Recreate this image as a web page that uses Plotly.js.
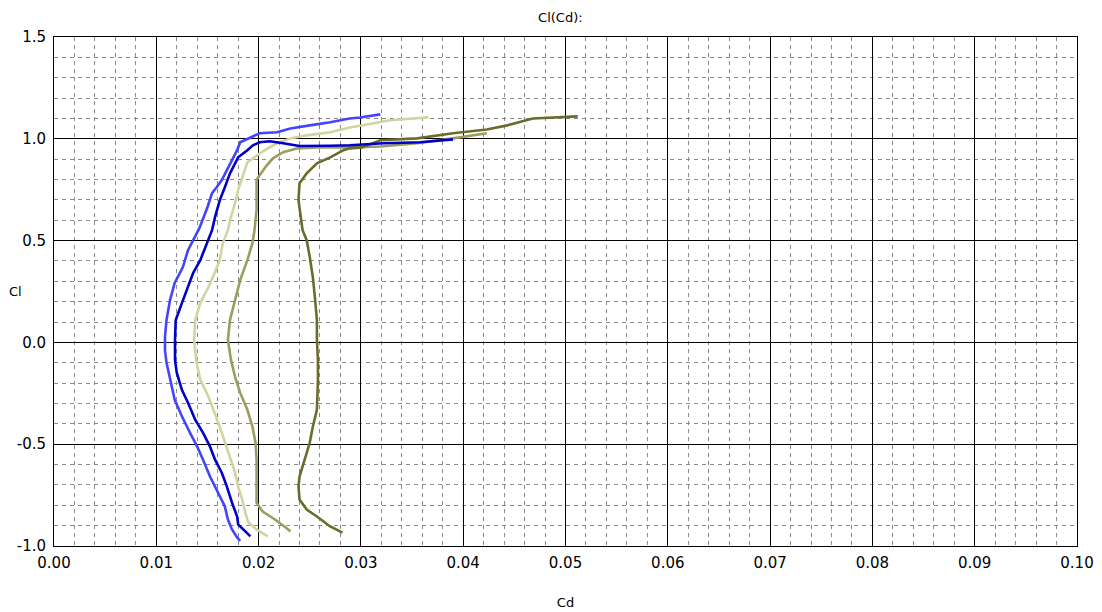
<!DOCTYPE html>
<html>
<head>
<meta charset="utf-8">
<script src="https://cdn.plot.ly/plotly-3.0.1.min.js"></script>
<style>html,body{margin:0;padding:0;background:#fff;}#chart{width:1102px;height:612px;}</style>
</head>
<body>
<div id="chart"></div>
<script>
// Series 1 (light blue), listed from the bottom of the curve to its top end
const cd1 = [0.0182,0.0179,0.0174,0.0170,0.0167,0.0160,0.01525,0.01457,0.0140,0.0133,0.0125,0.0118,0.01134,0.0110,0.01085,0.01085,0.0110,0.01134,0.0118,0.0126,0.0131,0.01359,0.0142,0.0150,0.01545,0.0159,0.0164,0.0169,0.0174,0.0179,0.0182,0.0192,0.0201,0.0218,0.0231,0.0250,0.0270,0.0289,0.0299,0.0319];
const cl1 = [-0.975,-0.958,-0.919,-0.870,-0.806,-0.738,-0.659,-0.576,-0.512,-0.444,-0.363,-0.282,-0.184,-0.100,-0.040,0.030,0.110,0.208,0.292,0.370,0.453,0.502,0.560,0.664,0.733,0.762,0.797,0.846,0.895,0.944,0.983,1.007,1.027,1.032,1.051,1.066,1.081,1.100,1.105,1.120];
// Series 2 (dark blue)
const cd2 = [0.0192,0.0185,0.0180,0.0179,0.0174,0.0169,0.0164,0.01574,0.01525,0.01457,0.0138,0.0131,0.0125,0.0120,0.01183,0.01183,0.0119,0.0125,0.0131,0.0136,0.0143,0.0150,0.01545,0.01574,0.0162,0.0167,0.0172,0.0177,0.0180,0.0189,0.01945,0.0201,0.0211,0.0224,0.0240,0.0270,0.0289,0.0322,0.0358,0.0390];
const cl2 = [-0.953,-0.919,-0.894,-0.855,-0.787,-0.708,-0.640,-0.576,-0.512,-0.444,-0.380,-0.296,-0.233,-0.149,-0.086,0.012,0.110,0.193,0.272,0.341,0.404,0.488,0.551,0.615,0.698,0.762,0.830,0.879,0.909,0.944,0.968,0.983,0.988,0.978,0.965,0.966,0.968,0.978,0.983,0.997];
// Series 3 (pale khaki)
const cd3 = [0.0209,0.0198,0.0190,0.0187,0.0184,0.0180,0.0177,0.0172,0.0167,0.0162,0.0157,0.0151,0.0143,0.0139,0.0137,0.0138,0.0143,0.0151,0.0157,0.0162,0.0165,0.0170,0.0172,0.0177,0.0180,0.0185,0.0189,0.01945,0.0201,0.0209,0.0218,0.0231,0.0247,0.0270,0.0289,0.0310,0.0328,0.0366];
const cl3 = [-0.953,-0.919,-0.885,-0.836,-0.772,-0.708,-0.640,-0.561,-0.493,-0.414,-0.346,-0.267,-0.184,-0.090,0.012,0.110,0.193,0.272,0.341,0.404,0.488,0.551,0.600,0.684,0.748,0.830,0.885,0.904,0.928,0.953,0.978,1.002,1.017,1.032,1.056,1.074,1.091,1.105];
// Series 4 (medium olive)
const cd4 = [0.0231,0.0229,0.0216,0.0204,0.0198,0.0198,0.0197,0.0194,0.0189,0.0182,0.0177,0.0173,0.0170,0.0172,0.0177,0.0182,0.0189,0.0194,0.0196,0.0198,0.0198,0.0201,0.0208,0.0214,0.0224,0.0238,0.0257,0.0289,0.0319,0.0355,0.0390,0.0423];
const cl4 = [-0.929,-0.919,-0.870,-0.831,-0.787,-0.576,-0.493,-0.414,-0.331,-0.248,-0.169,-0.086,0.012,0.110,0.208,0.306,0.404,0.488,0.551,0.650,0.797,0.821,0.870,0.904,0.934,0.953,0.958,0.958,0.962,0.978,1.002,1.027];
// Series 5 (dark olive)
const cd5 = [0.0282,0.0270,0.0257,0.0247,0.0240,0.0239,0.0240,0.0245,0.0250,0.0253,0.0257,0.0258,0.0258,0.0257,0.0257,0.0255,0.0253,0.0250,0.0247,0.0243,0.0241,0.0239,0.0240,0.0247,0.0257,0.0270,0.0283,0.0289,0.0301,0.0319,0.0355,0.0390,0.0423,0.0443,0.0468,0.0512];
const cl5 = [-0.934,-0.904,-0.855,-0.821,-0.772,-0.708,-0.659,-0.576,-0.493,-0.414,-0.331,-0.184,-0.086,0.012,0.110,0.223,0.321,0.419,0.502,0.551,0.620,0.698,0.782,0.830,0.879,0.909,0.944,0.953,0.958,0.993,1.002,1.027,1.046,1.066,1.100,1.110];

const xTicks = [0,0.01,0.02,0.03,0.04,0.05,0.06,0.07,0.08,0.09,0.10];
const yTicks = [-1.0,-0.5,0.0,0.5,1.0,1.5];

const series = [
  {x: cd3, y: cl3, color: '#d3d3a0'},
  {x: cd4, y: cl4, color: '#9c9c5e'},
  {x: cd5, y: cl5, color: '#6b6b2c'},
  {x: cd1, y: cl1, color: '#4444ff'},
  {x: cd2, y: cl2, color: '#0000c8'}
];

const traces = series.map(s => ({
  x: s.x, y: s.y, type: 'scatter', mode: 'lines',
  line: {color: s.color, width: 2.6}, hoverinfo: 'skip', showlegend: false
}));

const fontFam = 'DejaVu Sans, Verdana, sans-serif';
const layout = {
  width: 1102, height: 612,
  margin: {l: 54, r: 25, t: 37, b: 66},
  paper_bgcolor: '#ffffff', plot_bgcolor: '#ffffff',
  font: {family: fontFam, size: 15, color: '#000'},
  title: {text: 'Cl(Cd):', font: {family: fontFam, size: 13, color: '#000'},
          xref: 'paper', x: 0.495, xanchor: 'center', y: 0.972, yanchor: 'middle'},
  xaxis: {
    range: [0, 0.1], tickvals: xTicks, ticktext: xTicks.map(v => v.toFixed(2)),
    tickfont: {family: fontFam, size: 15, color: '#000'},
    showgrid: true, gridcolor: '#000', gridwidth: 1, zeroline: false,
    showline: true, mirror: true, linecolor: '#000', linewidth: 1,
    ticks: '', ticklabelstandoff: 3,
    minor: {dtick: 0.002, tick0: 0, showgrid: true, gridcolor: '#8a8a8a', gridwidth: 1, griddash: '4px,4px'},
    title: {text: 'Cd', font: {family: fontFam, size: 13, color: '#000'}, standoff: 26},
    automargin: false, fixedrange: true
  },
  yaxis: {
    range: [-1, 1.5], tickvals: yTicks, ticktext: yTicks.map(v => v.toFixed(1)),
    tickfont: {family: fontFam, size: 15, color: '#000'},
    showgrid: true, gridcolor: '#000', gridwidth: 1, zeroline: false,
    showline: true, mirror: true, linecolor: '#000', linewidth: 1,
    ticks: '', ticklabelstandoff: 4,
    minor: {dtick: 0.1, tick0: 0, showgrid: true, gridcolor: '#8a8a8a', gridwidth: 1, griddash: '4px,4px'},
    automargin: false, fixedrange: true
  },
  annotations: [
    {text: 'Cl', xref: 'paper', yref: 'paper', x: -0.038, y: 0.5, xanchor: 'center', yanchor: 'middle',
     showarrow: false, font: {family: fontFam, size: 13, color: '#000'}}
  ]
};

Plotly.newPlot('chart', traces, layout, {displayModeBar: false, staticPlot: true});
</script>
</body>
</html>
